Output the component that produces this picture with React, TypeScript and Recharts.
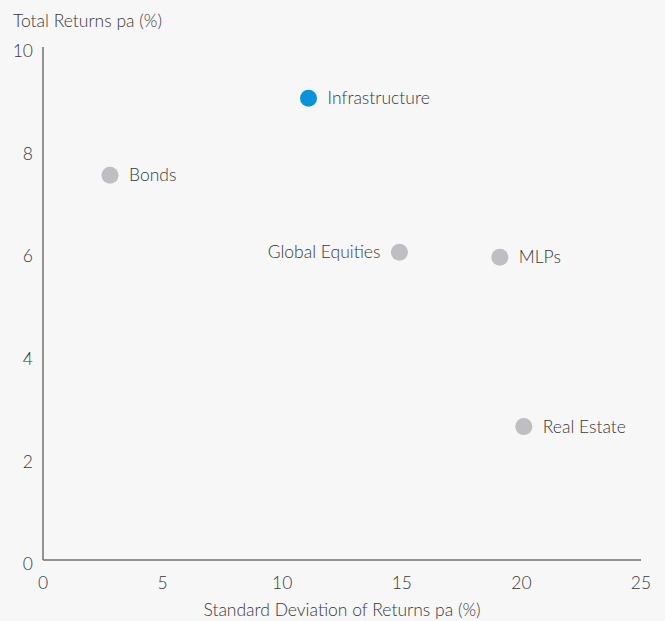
import React from 'react';
import { ScatterChart, Scatter, XAxis, YAxis } from 'recharts';

const assets = ['Infrastructure', 'Bonds', 'Global Equities', 'MLPs', 'Real Estate'];
const stdDev = [11.1, 2.8, 14.9, 19.1, 20.1];
const returns = [9.0, 7.5, 6.0, 5.9, 2.6];
const labelSide = ['right', 'right', 'left', 'right', 'right'];
const xTicks = [0, 5, 10, 15, 20, 25];
const yTicks = [0, 2, 4, 6, 8, 10];

const FONT = 'Lato, "Open Sans", sans-serif';
const FS = 17.5;
const FW = 300;
const BLUE = '#0a93d9';
const GREY = '#bfbfc3';
const TEXT = '#383838';

const data = assets.map((name, i) => ({
  name,
  x: stdDev[i],
  y: returns[i],
  side: labelSide[i],
  color: name === 'Infrastructure' ? BLUE : GREY,
}));

const PointShape = (props: any) => {
  const { cx, cy, payload } = props;
  const right = payload.side === 'right';
  return (
    <g>
      <circle cx={cx} cy={cy} r={8.5} fill={payload.color} />
      <text
        x={right ? cx + 19 : cx - 19}
        y={cy}
        dy="0.35em"
        textAnchor={right ? 'start' : 'end'}
        fontFamily={FONT}
        fontSize={FS}
        fontWeight={FW}
        fill={TEXT}
      >
        {payload.name}
      </text>
    </g>
  );
};

export default function App() {
  return (
    <div style={{ position: 'absolute', left: 0, top: 0, width: 665, height: 621, background: '#f7f7f7' }}>
      <div
        style={{
          position: 'absolute',
          left: 13,
          top: 10,
          fontFamily: FONT,
          fontSize: FS,
          fontWeight: FW,
          color: TEXT,
          whiteSpace: 'nowrap',
        }}
      >
        Total Returns pa (%)
      </div>
      <ScatterChart width={665} height={621} margin={{ top: 47, right: 24, bottom: 0, left: 0 }}>
        <XAxis
          type="number"
          dataKey="x"
          domain={[0, 25]}
          ticks={xTicks}
          tickLine={false}
          tickMargin={11}
          axisLine={{ stroke: '#707070', strokeWidth: 1.5 }}
          tick={{ fontFamily: FONT, fontSize: FS, fontWeight: FW, fill: TEXT }}
          height={61}
          label={{
            value: 'Standard Deviation of Returns pa (%)',
            position: 'insideBottom',
            offset: 5,
            style: { fontFamily: FONT, fontSize: FS, fontWeight: FW, fill: TEXT },
          }}
        />
        <YAxis
          type="number"
          dataKey="y"
          domain={[0, 10]}
          ticks={yTicks}
          tickLine={false}
          tickMargin={4}
          width={43}
          axisLine={{ stroke: '#707070', strokeWidth: 1.5 }}
          tick={{ fontFamily: FONT, fontSize: FS, fontWeight: FW, fill: TEXT, dy: 4 }}
        />
        <Scatter data={data} shape={PointShape} isAnimationActive={false} />
      </ScatterChart>
    </div>
  );
}
